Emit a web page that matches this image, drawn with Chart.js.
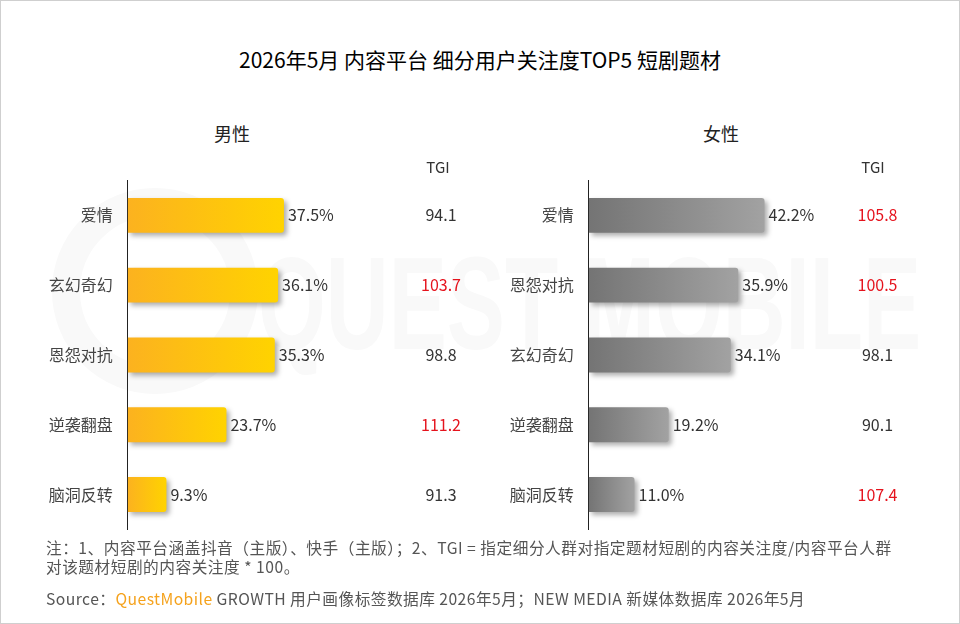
<!DOCTYPE html>
<html>
<head>
<meta charset="utf-8">
<script src="https://cdn.jsdelivr.net/npm/chart.js@4/dist/chart.umd.min.js"></script>
<style>
  html, body { margin: 0; padding: 0; background: #fff; }
  body { width: 960px; height: 624px; position: relative; overflow: hidden;
         font-family: "Noto Sans CJK SC", "Noto Sans", sans-serif; color: #333; }
  .frame { position: absolute; left: 0; top: 0; width: 958px; height: 622px; border: 1px solid #cfcfcf; }
  .title { position: absolute; left: 0; width: 960px; top: 44px; text-align: center;
           font-size: 21px; font-weight: 400; color: #000; }
  .sub { position: absolute; top: 120px; width: 120px; text-align: center; font-size: 18px; color: #222; }
  .wm-ring { position: absolute; left: 52px; top: 188px; width: 150px; height: 150px;
             border: 28px solid #f9f9f9; border-radius: 50%; }
  .wm-text { position: absolute; left: 258px; top: 228px; font-family: "Liberation Sans", Arial, sans-serif;
             font-weight: bold; font-size: 132px; color: #f9f9f9; white-space: nowrap;
             transform: scaleX(0.66); transform-origin: left top; }
  .box { position: absolute; top: 150px; width: 480px; height: 404px; }
  .note { position: absolute; left: 46px; top: 538px; font-size: 15.7px; line-height: 19px; color: #555;
          letter-spacing: 0.5px; white-space: nowrap; }
  .src { position: absolute; left: 46px; top: 587px; font-size: 15.7px; color: #555; letter-spacing: 0.45px; white-space: nowrap; }
  .src b { font-weight: normal; color: #f5a21c; }
</style>
</head>
<body>
<div class="frame"></div>
<div class="wm-ring"></div>
<div class="wm-text">QUEST MOBILE</div>
<div class="title">2026年5月 内容平台 细分用户关注度TOP5 短剧题材</div>
<div class="sub" style="left:172px">男性</div>
<div class="sub" style="left:661px">女性</div>
<div class="box" style="left:0"><canvas id="maleChart"></canvas></div>
<div class="box" style="left:480px"><canvas id="femaleChart"></canvas></div>
<div class="note">注：1、内容平台涵盖抖音（主版）、快手（主版）；2、TGI = 指定细分人群对指定题材短剧的内容关注度/内容平台人群<br>对该题材短剧的内容关注度 * 100。</div>
<div class="src">Source：<b>QuestMobile</b> GROWTH 用户画像标签数据库 2026年5月；NEW MEDIA 新媒体数据库 2026年5月</div>
<script>
// 男性
const maleLabels = ['爱情', '玄幻奇幻', '恩怨对抗', '逆袭翻盘', '脑洞反转'];
const maleShare = [37.5, 36.1, 35.3, 23.7, 9.3];
const maleTgi = [94.1, 103.7, 98.8, 111.2, 91.3];

// 女性
const femaleLabels = ['爱情', '恩怨对抗', '玄幻奇幻', '逆袭翻盘', '脑洞反转'];
const femaleShare = [42.2, 35.9, 34.1, 19.2, 11.0];
const femaleTgi = [105.8, 100.5, 98.1, 90.1, 107.4];

const FONT = '"Noto Sans CJK SC", "Noto Sans", sans-serif';

// bar gradient from the base to the end of each bar
function barGradient(from, to) {
    return (c) => {
        const chart = c.chart;
        const x = chart.scales.x;
        if (!chart.chartArea || !x || c.raw === undefined) return from;
        const x0 = x.getPixelForValue(0);
        const x1 = x.getPixelForValue(c.raw);
        const g = chart.ctx.createLinearGradient(x0, 0, x1, 0);
        g.addColorStop(0, from);
        g.addColorStop(1, to);
        return g;
    };
}

const shadowPlugin = {
    id: 'barShadow',
    beforeDatasetDraw(chart) {
        const ctx = chart.ctx;
        ctx.save();
        ctx.shadowColor = 'rgba(0, 0, 0, 0.32)';
        ctx.shadowBlur = 5;
        ctx.shadowOffsetX = 3;
        ctx.shadowOffsetY = 3;
    },
    afterDatasetDraw(chart) {
        chart.ctx.restore();
    },
};

const labelPlugin = {
    id: 'barLabels',
    afterDatasetsDraw(chart, args, opts) {
        const ctx = chart.ctx;
        const meta = chart.getDatasetMeta(0);
        const values = chart.data.datasets[0].data;
        ctx.save();
        ctx.font = '16px ' + FONT;
        ctx.textBaseline = 'middle';
        ctx.fillStyle = '#333';
        ctx.textAlign = 'left';
        meta.data.forEach((bar, i) => {
            ctx.fillText(values[i].toFixed(1) + '%', bar.x + 4, bar.y);
        });
        ctx.textAlign = 'center';
        opts.tgi.forEach((v, i) => {
            ctx.fillStyle = v > 100 ? '#e5131d' : '#333';
            ctx.fillText(v.toFixed(1), opts.tgiX, meta.data[i].y);
        });
        ctx.fillStyle = '#333';
        ctx.font = '15px ' + FONT;
        ctx.fillText('TGI', opts.headX, chart.chartArea.top - 13.5);
        ctx.restore();
    },
};

function makeChart(id, labels, values, tgi, colors, axisWidth, padRight, tgiX, headX) {
    const ctx = document.getElementById(id).getContext('2d');
    return new Chart(ctx, {
        type: 'bar',
        data: {
            labels: labels,
            datasets: [{
                data: values,
                backgroundColor: barGradient(colors[0], colors[1]),
                borderRadius: 3,
                borderWidth: 0,
                categoryPercentage: 1,
                barPercentage: 0.5,
            }],
        },
        options: {
            indexAxis: 'y',
            responsive: true,
            maintainAspectRatio: false,
            animation: false,
            layout: { padding: { top: 30.5, bottom: 11.5, left: 0, right: padRight } },
            plugins: {
                legend: { display: false },
                tooltip: { enabled: false },
                barLabels: { tgi: tgi, tgiX: tgiX, headX: headX },
            },
            scales: {
                x: { display: false, min: 0, max: 60 },
                y: {
                    grid: { display: false, drawTicks: false },
                    border: { display: true, color: '#222', width: 1 },
                    ticks: { color: '#444', padding: 15, font: { size: 16, family: FONT } },
                    afterFit: (axis) => { axis.width = axisWidth; },
                },
            },
        },
        plugins: [shadowPlugin, labelPlugin],
    });
}

makeChart('maleChart', maleLabels, maleShare, maleTgi, ['#fcb21f', '#ffd300'], 127.7, 102.3, 441, 438);
makeChart('femaleChart', femaleLabels, femaleShare, femaleTgi, ['#747474', '#a2a2a2'], 108.7, 121.3, 397.5, 393);
</script>
</body>
</html>
